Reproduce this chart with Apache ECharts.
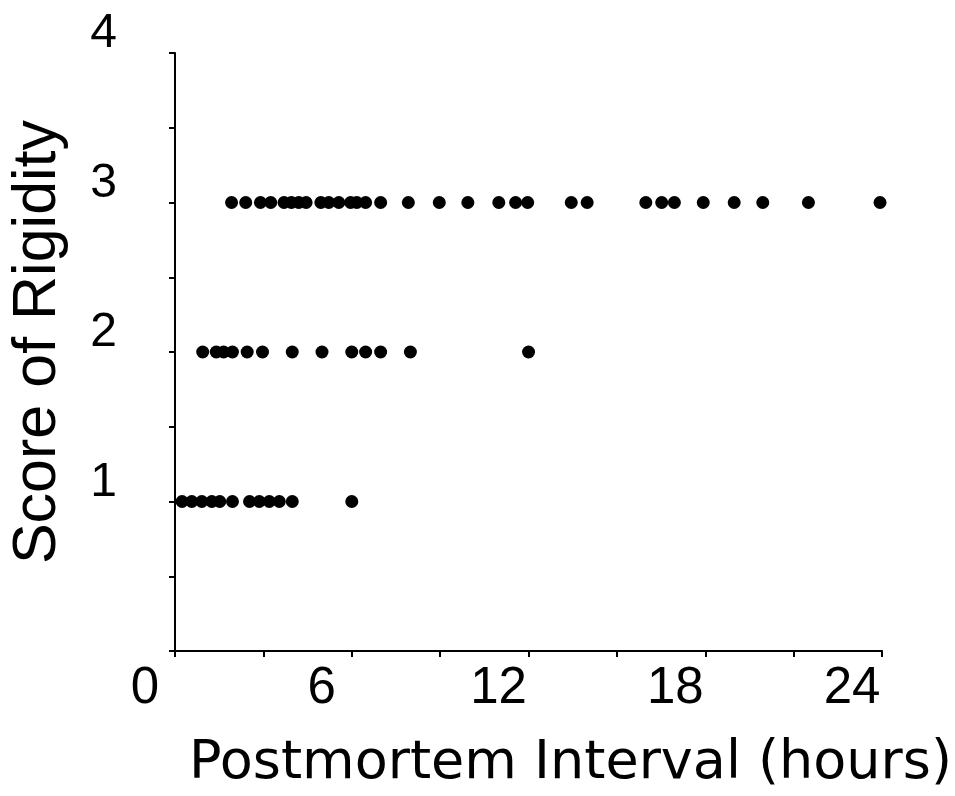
<!DOCTYPE html>
<html>
<head>
<meta charset="utf-8">
<script src="https://cdn.jsdelivr.net/npm/echarts@6/dist/echarts.min.js"></script>
<style>
html,body{margin:0;padding:0;background:#fff;}
#chart{width:955px;height:796px;}
</style>
</head>
<body>
<div id="chart"></div>
<script>
// Postmortem interval (hours) of each case, grouped by score of rigidity
const score1Hours = [0.24, 0.57, 0.91, 1.25, 1.52, 1.95, 2.53, 2.86, 3.2, 3.54, 3.98, 6.0];
const score2Hours = [0.94, 1.4, 1.65, 1.95, 2.45, 2.97, 3.98, 4.99, 6.0, 6.47, 6.98, 7.99, 12.0];
const score3Hours = [1.92, 2.4, 2.9, 3.25, 3.7, 3.95, 4.2, 4.45, 4.95, 5.22, 5.56, 5.96, 6.17, 6.47, 6.98,
  7.92, 8.97, 9.94, 10.99, 11.56, 11.97, 13.45, 13.99, 15.98, 16.52, 16.95, 17.93, 18.98, 19.95, 21.5, 23.93];
const scores = [1, 2, 3];
const xTickLabels = [0, 6, 12, 18, 24];
const yTickLabels = [1, 2, 3, 4];
const xTitle = 'Postmortem Interval (hours)';
const yTitle = 'Score of Rigidity';

const groups = [score1Hours, score2Hours, score3Hours];
const points = [];
groups.forEach((arr, i) => arr.forEach(h => points.push([h, scores[i]])));

const chart = echarts.init(document.getElementById('chart'), null, {renderer: 'canvas'});
chart.setOption({
  backgroundColor: '#ffffff',
  animation: false,
  grid: {left: 175, top: 53, right: 68, bottom: 144, containLabel: false},
  xAxis: {
    type: 'value', min: 0, max: 24, interval: 3,
    splitLine: {show: false},
    axisLine: {show: true, onZero: false, lineStyle: {color: '#000', width: 2}},
    axisTick: {show: true, length: 6, lineStyle: {color: '#000', width: 2}},
    axisLabel: {
      show: true, margin: 12, color: '#000', fontFamily: 'Liberation Sans', fontSize: 51,
      padding: [0, 60, 0, 0],
      formatter: v => xTickLabels.includes(v) ? String(v) : ''
    },
    name: xTitle, nameLocation: 'middle', nameGap: 86,
    nameTextStyle: {color: '#000', fontFamily: 'DejaVu Sans', fontSize: 54, lineHeight: 54, padding: [0, 0, 0, 84]}
  },
  yAxis: {
    type: 'value', min: 0, max: 4, interval: 0.5,
    splitLine: {show: false},
    axisLine: {show: true, onZero: false, lineStyle: {color: '#000', width: 2}},
    axisTick: {show: true, length: 6, lineStyle: {color: '#000', width: 2}},
    axisLabel: {
      show: true, margin: 58, color: '#000', fontFamily: 'Liberation Sans', fontSize: 48,
      verticalAlign: 'bottom', lineHeight: 38,
      formatter: v => yTickLabels.includes(v) ? String(v) : ''
    },
    name: yTitle, nameLocation: 'middle', nameGap: 106,
    nameTextStyle: {color: '#000', fontFamily: 'Liberation Sans', fontSize: 61, lineHeight: 61, padding: [0, 0, 0, 20]}
  },
  series: [{
    type: 'scatter',
    data: points,
    symbol: 'circle',
    symbolSize: 13,
    itemStyle: {color: '#000', opacity: 1},
    clip: false
  }]
});
</script>
</body>
</html>
